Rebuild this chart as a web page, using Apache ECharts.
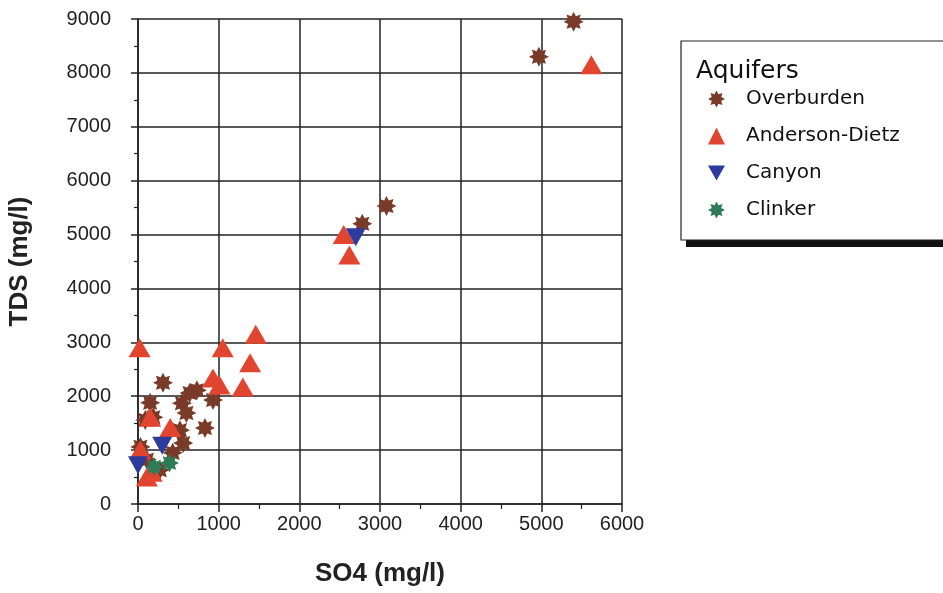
<!DOCTYPE html>
<html>
<head>
<meta charset="utf-8">
<script src="https://cdn.jsdelivr.net/npm/echarts@6/dist/echarts.min.js"></script>
<style>
  html, body { margin: 0; padding: 0; background: #fff; }
  #chart { width: 943px; height: 593px; }
</style>
</head>
<body>
<div id="chart"></div>
<script>
// SO4 vs TDS (mg/l), by aquifer
var seriesNames = ['Overburden', 'Anderson-Dietz', 'Canyon', 'Clinker'];

var overburden = [
    [5400, 8950], [4970, 8300], [3080, 5530], [2780, 5200],
    [310, 2250], [730, 2110], [640, 2060], [930, 1930], [545, 1870],
    [150, 1880], [600, 1690], [190, 1610], [90, 1560], [830, 1410],
    [520, 1370], [560, 1130], [430, 950], [30, 1060], [110, 820], [270, 630]
];
var andersonDietz = [
    [5620, 8150], [2550, 5000], [2620, 4620], [20, 2900], [1460, 3150],
    [1050, 2900], [1390, 2620], [930, 2340], [1010, 2210], [1300, 2170],
    [400, 1420], [150, 1610], [30, 1000], [170, 590], [110, 500]
];
var canyon = [
    [2700, 4950], [300, 1080], [0, 720]
];
var clinker = [
    [390, 760], [200, 690]
];

var xTicks = [0, 1000, 2000, 3000, 4000, 5000, 6000];
var yTicks = [0, 1000, 2000, 3000, 4000, 5000, 6000, 7000, 8000, 9000];

// 8 spoke asterisk shape
function starPath(n, rIn, rOut) {
    var p = [];
    for (var i = 0; i < n * 2; i++) {
        var r = i % 2 === 0 ? rOut : rIn;
        var a = Math.PI * i / n - Math.PI / 2;
        p.push((50 + r * Math.cos(a)).toFixed(1) + ' ' + (50 + r * Math.sin(a)).toFixed(1));
    }
    return 'path://M' + p.join(' L') + ' Z';
}
var asterisk = starPath(8, 30, 50);

var colors = ['#7a3a28', '#e2452f', '#2d3b9c', '#2f7a57'];
var symbols = [asterisk, 'triangle', 'path://M0 0 L100 0 L50 87 Z', asterisk];
var sizes = [20, [22, 19], [20, 18], 19];
var dataList = [overburden, andersonDietz, canyon, clinker];

var myChart = echarts.init(document.getElementById('chart'));

var series = [];
for (var i = 0; i < seriesNames.length; i++) {
    series.push({
        name: seriesNames[i],
        type: 'scatter',
        data: dataList[i],
        symbol: symbols[i],
        symbolSize: sizes[i],
        itemStyle: { color: colors[i], opacity: 1 },
        z: 3 + i
    });
}

var fontFam = 'Liberation Sans, Arial, sans-serif';
var legendFam = 'DejaVu Sans, sans-serif';

var option = {
    backgroundColor: '#fff',
    animation: false,
    grid: { left: 138, right: 321, top: 19, bottom: 89, outerBoundsMode: 'none', containLabel: false },
    xAxis: {
        type: 'value',
        min: xTicks[0],
        max: xTicks[xTicks.length - 1],
        interval: 1000,
        name: 'SO4 (mg/l)',
        nameLocation: 'middle',
        nameGap: 57,
        nameTextStyle: { fontFamily: fontFam, fontSize: 26, fontWeight: 'bold', color: '#222' },
        axisLine: { onZero: false, lineStyle: { color: '#222', width: 1.5 } },
        axisTick: { show: true, inside: false, length: 8, lineStyle: { color: '#222', width: 1.5 } },
        minorTick: { show: true, splitNumber: 2, length: 5, lineStyle: { color: '#222', width: 1.2 } },
        axisLabel: {
            fontFamily: fontFam, fontSize: 20, color: '#222', margin: 10,
            formatter: function (v) { return String(v); }
        },
        splitLine: { show: true, lineStyle: { color: '#222', width: 1.5 } }
    },
    yAxis: {
        type: 'value',
        min: yTicks[0],
        max: yTicks[yTicks.length - 1],
        interval: 1000,
        name: 'TDS (mg/l)',
        nameLocation: 'middle',
        nameGap: 105,
        nameRotate: 90,
        nameTextStyle: { fontFamily: fontFam, fontSize: 26, fontWeight: 'bold', color: '#222' },
        axisLine: { onZero: false, lineStyle: { color: '#222', width: 1.5 } },
        axisTick: { show: true, inside: false, length: 7, lineStyle: { color: '#222', width: 1.5 } },
        minorTick: { show: true, splitNumber: 2, length: 4, lineStyle: { color: '#222', width: 1.2 } },
        axisLabel: {
            fontFamily: fontFam, fontSize: 20, color: '#222', margin: 27,
            formatter: function (v) { return String(v); }
        },
        splitLine: { show: true, lineStyle: { color: '#222', width: 1.5 } }
    },
    legend: {
        orient: 'vertical',
        left: 703,
        top: 84,
        itemWidth: 17,
        itemHeight: 17,
        itemGap: 17,
        data: seriesNames,
        textStyle: { fontFamily: legendFam, fontSize: 20, color: '#111', padding: [0, 0, 0, 16] }
    },
    graphic: [
        { type: 'rect', z: 0, shape: { x: 686, y: 47, width: 270, height: 200 }, style: { fill: '#111' } },
        { type: 'rect', z: 1, shape: { x: 681, y: 41, width: 270, height: 199 }, style: { fill: '#fff', stroke: '#222', lineWidth: 1.2 } },
        { type: 'text', z: 2, left: 696, top: 59, style: { text: 'Aquifers', font: '25px DejaVu Sans, sans-serif', fill: '#111' } }
    ],
    series: series
};
myChart.setOption(option);
</script>
</body>
</html>
